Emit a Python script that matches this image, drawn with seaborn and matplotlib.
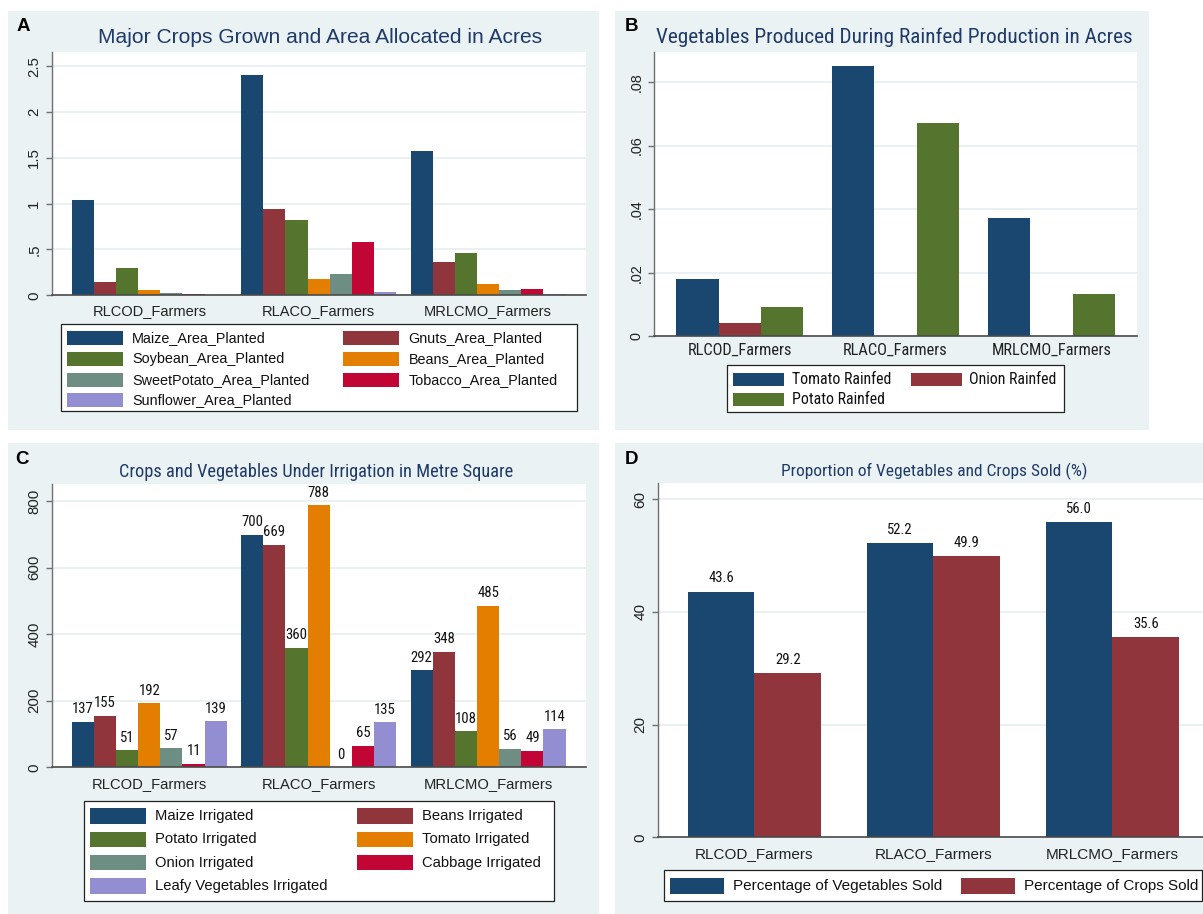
import numpy as np
import pandas as pd
import matplotlib
matplotlib.use("Agg")
import matplotlib.pyplot as plt
from matplotlib.patches import Rectangle
from matplotlib import font_manager as fm
import seaborn as sns

# ---------------------------------------------------------------- data
GROUPS = ["RLCOD_Farmers", "RLACO_Farmers", "MRLCMO_Farmers"]

# Panel A: major crops, area allocated (acres)
A_SERIES = ["Maize_Area_Planted", "Gnuts_Area_Planted", "Soybean_Area_Planted",
            "Beans_Area_Planted", "SweetPotato_Area_Planted", "Tobacco_Area_Planted",
            "Sunflower_Area_Planted"]
A_MAIZE = [1.04, 2.41, 1.57]
A_GNUTS = [0.14, 0.94, 0.36]
A_SOYBEAN = [0.295, 0.826, 0.462]
A_BEANS = [0.055, 0.175, 0.124]
A_SWEETPOTATO = [0.022, 0.229, 0.055]
A_TOBACCO = [0.015, 0.582, 0.066]
A_SUNFLOWER = [0.0, 0.033, 0.015]
A_YTICKS = [0, 0.5, 1, 1.5, 2, 2.5]
A_YTICKLABELS = ["0", ".5", "1", "1.5", "2", "2.5"]

# Panel B: rainfed vegetables (acres)
B_SERIES = ["Tomato Rainfed", "Onion Rainfed", "Potato Rainfed"]
B_TOMATO = [0.0179, 0.0849, 0.0371]
B_ONION = [0.0042, 0.0, 0.0]
B_POTATO = [0.0092, 0.0670, 0.0132]
B_YTICKS = [0, 0.02, 0.04, 0.06, 0.08]
B_YTICKLABELS = ["0", ".02", ".04", ".06", ".08"]

# Panel C: irrigated crops and vegetables (square metres)
C_SERIES = ["Maize Irrigated", "Beans Irrigated", "Potato Irrigated", "Tomato Irrigated",
            "Onion Irrigated", "Cabbage Irrigated", "Leafy Vegetables Irrigated"]
C_MAIZE = [137, 700, 292]
C_BEANS = [155, 669, 348]
C_POTATO = [51, 360, 108]
C_TOMATO = [192, 788, 485]
C_ONION = [57, 0, 56]
C_CABBAGE = [11, 65, 49]
C_LEAFY = [139, 135, 114]
C_YTICKS = [0, 200, 400, 600, 800]
C_YTICKLABELS = ["0", "200", "400", "600", "800"]

# Panel D: share sold (%)
D_SERIES = ["Percentage of Vegetables Sold", "Percentage of Crops Sold"]
D_VEG = [43.6, 52.2, 56.0]
D_CROPS = [29.2, 49.9, 35.6]
D_YTICKS = [0, 20, 40, 60]
D_YTICKLABELS = ["0", "20", "40", "60"]

TITLES = ["Major Crops Grown and Area Allocated in Acres",
          "Vegetables Produced During Rainfed Production in Acres",
          "Crops and Vegetables Under Irrigation in Metre Square",
          "Proportion of Vegetables and Crops Sold (%)"]
LETTERS = ["A", "B", "C", "D"]

# ---------------------------------------------------------------- style
NAVY, MAROON, FOREST, DKORANGE = "#1a476f", "#90353b", "#55752f", "#e37e00"
TEAL, CRANBERRY, LAVENDER = "#6e8e84", "#c10534", "#938dd2"
PANEL_BG = "#eaf2f3"
GRID = "#e4eef0"
TITLE_C = "#1f3a68"

names = {f.name for f in fm.fontManager.ttflist}
REG = "Liberation Sans" if "Liberation Sans" in names else "DejaVu Sans"
plt.rcParams["font.family"] = [REG, "DejaVu Sans"]


def find_narrow_file():
    """Return the path of an installed narrow/condensed sans face, if any."""
    entries = fm.fontManager.ttflist
    prefs = ["Liberation Sans Narrow", "Arial Narrow", "Roboto Condensed",
             "Open Sans Condensed", "Noto Sans Condensed", "DejaVu Sans Condensed"]
    regular = ("400", "normal", "regular")
    for p in prefs:
        for f in entries:
            if f.name == p and f.style == "normal" and str(f.weight).lower() in regular:
                return f.fname
    for f in entries:
        if (str(f.stretch).lower() in ("condensed", "semi-condensed")
                and f.style == "normal" and str(f.weight).lower() in regular
                and "cjk" not in f.name.lower()):
            return f.fname
    return None


NARROW_FILE = find_narrow_file()


def narrow(size):
    """Text kwargs for the narrow face; falls back to a smaller regular face."""
    if NARROW_FILE:
        return {"fontproperties": fm.FontProperties(fname=NARROW_FILE, size=size)}
    return {"fontproperties": fm.FontProperties(family=[REG, "DejaVu Sans"], size=size * 0.84)}


W, H = 1203, 914
fig = plt.figure(figsize=(W / 100, H / 100), dpi=100)
fig.patch.set_facecolor("white")


def fx(x):
    return x / W


def fy(y):
    return 1 - y / H


def panel_bg(x0, y0, x1, y1):
    fig.add_artist(Rectangle((fx(x0), fy(y1)), (x1 - x0) / W, (y1 - y0) / H,
                             transform=fig.transFigure, facecolor=PANEL_BG,
                             edgecolor="none", zorder=0))


def make_axes(x0, y0, x1, y1):
    ax = fig.add_axes([fx(x0), fy(y1), (x1 - x0) / W, (y1 - y0) / H])
    ax.set_facecolor("white")
    ax.set_zorder(1)
    return ax


def long_frame(series, columns):
    rows = []
    for name, vals in zip(series, columns):
        for g, v in zip(GROUPS, vals):
            rows.append({"group": g, "series": name, "value": v})
    return pd.DataFrame(rows)


def style_axes(ax, yticks, yticklabels, ymax, xlim, xsize, ysize, xpad):
    ax.set_ylim(0, ymax)
    ax.set_xlim(*xlim)
    ax.set_yticks(yticks)
    ax.set_yticklabels(yticklabels)
    ax.set_xlabel("")
    ax.set_ylabel("")
    for s in ("top", "right"):
        ax.spines[s].set_visible(False)
    ax.spines["left"].set_color("#707070")
    ax.spines["left"].set_linewidth(1.0)
    ax.spines["bottom"].set_color("#4a4a4a")
    ax.spines["bottom"].set_linewidth(1.2)
    ax.yaxis.grid(True, color=GRID, linewidth=1.1)
    ax.set_axisbelow(True)
    ax.tick_params(axis="y", length=4.5, width=1, color="#707070", pad=3,
                   labelsize=ysize, labelcolor="#222222", labelrotation=90)
    ax.tick_params(axis="x", length=0, pad=xpad, labelsize=xsize, labelcolor="#222222")
    for lab in ax.get_yticklabels():
        lab.set_va("center")


def bars(ax, series, columns, colors, width):
    df = long_frame(series, columns)
    sns.barplot(data=df, x="group", y="value", hue="series", order=GROUPS,
                hue_order=series, palette=colors, width=width, gap=0, dodge=True,
                saturation=1, errorbar=None, legend=False, linewidth=0, ax=ax)


def legend_box(box, sw_x, txt_x, rows_y, sw_h, labels, colors, font_kw):
    x0, y0, x1, y1 = box
    fig.add_artist(Rectangle((fx(x0), fy(y1)), (x1 - x0) / W, (y1 - y0) / H,
                             transform=fig.transFigure, facecolor="white",
                             edgecolor="#222222", linewidth=0.9, zorder=2))
    for i, (lab, col) in enumerate(zip(labels, colors)):
        r, c = divmod(i, 2)
        sx0, sx1 = sw_x[c]
        yc = rows_y[r]
        fig.add_artist(Rectangle((fx(sx0), fy(yc + sw_h / 2)), (sx1 - sx0) / W, sw_h / H,
                                 transform=fig.transFigure, facecolor=col,
                                 edgecolor="none", zorder=3))
        fig.text(fx(txt_x[c]), fy(yc), lab, ha="left", va="center",
                 color="#111111", zorder=3, **font_kw)


def fit_width(t, target_px):
    r = fig.canvas.get_renderer()
    w = t.get_window_extent(r).width
    t.set_fontsize(t.get_fontsize() * target_px / w)


# ---------------------------------------------------------------- panel backgrounds
panel_bg(8, 11, 599, 430)
panel_bg(615, 11, 1149, 430)
panel_bg(8, 443, 599, 914)
panel_bg(615, 443, 1203, 914)

# ---------------------------------------------------------------- panel A
A_COLORS = [NAVY, MAROON, FOREST, DKORANGE, TEAL, CRANBERRY, LAVENDER]
axA = make_axes(51.7, 51.7, 585.5, 295.3)
bars(axA, A_SERIES, [A_MAIZE, A_GNUTS, A_SOYBEAN, A_BEANS, A_SWEETPOTATO, A_TOBACCO,
                     A_SUNFLOWER], A_COLORS, 0.915)
style_axes(axA, A_YTICKS, A_YTICKLABELS, 2.659, (-0.576, 2.575), 10.5, 10.8, 6)
legend_box((60.5, 324.3, 576.7, 411), [(67, 122.5), (343, 399)], [132, 408.7],
           [338.3, 359.3, 380, 400.5], 14, A_SERIES, A_COLORS,
           {"fontsize": 10.4, "family": [REG, "DejaVu Sans"]})

# ---------------------------------------------------------------- panel B
B_COLORS = [NAVY, MAROON, FOREST]
axB = make_axes(653.8, 51.7, 1136.5, 336.3)
bars(axB, B_SERIES, [B_TOMATO, B_ONION, B_POTATO], B_COLORS, 0.818)
style_axes(axB, B_YTICKS, B_YTICKLABELS, 0.0895, (-0.552, 2.547), 10.2, 10.4, 5)
for lab in axB.get_xticklabels():
    lab.set_fontproperties(narrow(11.8)["fontproperties"])
legend_box((727.3, 365, 1063.5, 412.3), [(732.7, 783.5), (910.8, 961.5)], [791.5, 969],
           [379.3, 399.3], 13.5, B_SERIES, B_COLORS, narrow(11.4))

# ---------------------------------------------------------------- panel C
C_COLORS = [NAVY, MAROON, FOREST, DKORANGE, TEAL, CRANBERRY, LAVENDER]
axC = make_axes(51.7, 484.3, 585.5, 767.3)
bars(axC, C_SERIES, [C_MAIZE, C_BEANS, C_POTATO, C_TOMATO, C_ONION, C_CABBAGE, C_LEAFY],
     C_COLORS, 0.915)
style_axes(axC, C_YTICKS, C_YTICKLABELS, 851, (-0.576, 2.575), 10.6, 10.8, 7)
for cont in axC.containers:
    axC.bar_label(cont, fmt="{:.0f}", padding=4, color="#111111", **narrow(10.6))
legend_box((84.2, 800.7, 553.8, 900.7), [(90.3, 146.2), (357.4, 413.3)], [155, 422],
           [816, 839.5, 862.5, 886], 15.5, C_SERIES, C_COLORS,
           {"fontsize": 10.6, "family": [REG, "DejaVu Sans"]})

# ---------------------------------------------------------------- panel D
D_COLORS = [NAVY, MAROON]
axD = make_axes(657.7, 483.3, 1209, 837.3)
bars(axD, D_SERIES, [D_VEG, D_CROPS], D_COLORS, 0.746)
style_axes(axD, D_YTICKS, D_YTICKLABELS, 62.84, (-0.54, 2.539), 11, 11, 7)
for cont in axD.containers:
    axD.bar_label(cont, fmt="{:.1f}", padding=4.5, color="#111111", **narrow(10.6))
legend_box((663.8, 870, 1202.3, 901), [(670.4, 724.2), (960.8, 1015.4)], [732.7, 1023.8],
           [886], 16, D_SERIES, D_COLORS,
           {"fontsize": 11, "family": [REG, "DejaVu Sans"]})

# ---------------------------------------------------------------- titles and letters
title_spec = [(320, 37.7, 446.6, False), (894, 37.7, 478.5, True),
              (316, 471.7, 398, True), (934, 471.7, 307, True)]
for text, (cx, cy, wpx, is_narrow) in zip(TITLES, title_spec):
    kw = narrow(14) if is_narrow else {"fontsize": 14, "family": [REG, "DejaVu Sans"]}
    t = fig.text(fx(cx), fy(cy), text, ha="center", va="center", color=TITLE_C,
                 zorder=3, **kw)
    fit_width(t, wpx)

for letter, (cx, cy) in zip(LETTERS, [(23, 26.5), (631.5, 26.5), (22.5, 459.5), (632, 459.5)]):
    fig.text(fx(cx), fy(cy), letter, ha="center", va="center", fontsize=13.5,
             fontweight="bold", color="black", zorder=3)

fig.savefig("out.png", dpi=100, facecolor="white")
